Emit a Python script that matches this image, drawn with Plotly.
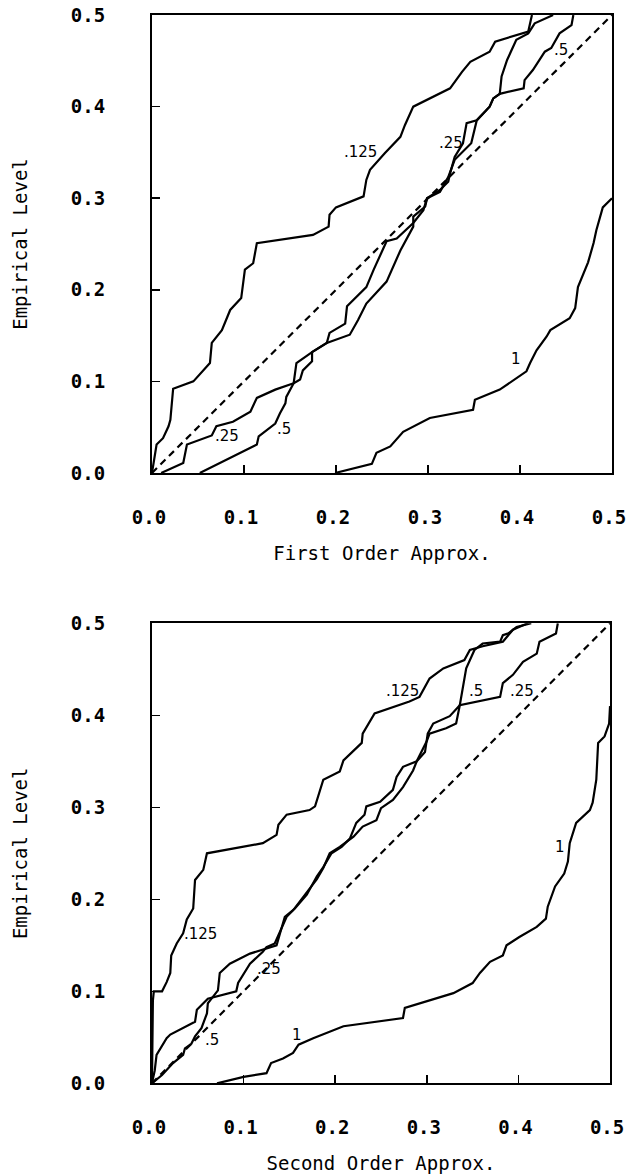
import plotly.graph_objects as go

# ---------------- data ----------------
tick_vals = [0.0, 0.1, 0.2, 0.3, 0.4, 0.5]
tick_text = ["0.0", "0.1", "0.2", "0.3", "0.4", "0.5"]

# First order approximation panel
f1_125_x = [0, 0.003, 0.005, 0.012, 0.018, 0.02, 0.023, 0.045, 0.063, 0.065, 0.076, 0.085, 0.097, 0.101, 0.11, 0.114,
            0.175, 0.192, 0.193, 0.2, 0.23, 0.233, 0.237, 0.253, 0.27, 0.275, 0.284, 0.324, 0.337, 0.346, 0.367,
            0.373, 0.404, 0.409, 0.413]
f1_125_y = [0, 0.02, 0.031, 0.038, 0.051, 0.058, 0.092, 0.10, 0.12, 0.142, 0.156, 0.178, 0.191, 0.222, 0.229, 0.251,
            0.26, 0.269, 0.282, 0.29, 0.302, 0.32, 0.331, 0.349, 0.367, 0.38, 0.40, 0.42, 0.438, 0.449, 0.46,
            0.471, 0.48, 0.482, 0.5]

f1_25_x = [0.01, 0.034, 0.038, 0.065, 0.07, 0.088, 0.107, 0.114, 0.134, 0.154, 0.157, 0.174, 0.19, 0.193, 0.21,
           0.212, 0.233, 0.241, 0.255, 0.266, 0.284, 0.295, 0.299, 0.313, 0.322, 0.324, 0.329, 0.338, 0.342, 0.353,
           0.367, 0.371, 0.378, 0.38, 0.386, 0.396, 0.409, 0.416, 0.436]
f1_25_y = [0, 0.011, 0.031, 0.041, 0.051, 0.056, 0.067, 0.082, 0.091, 0.098, 0.12, 0.132, 0.142, 0.153, 0.163,
           0.182, 0.203, 0.222, 0.253, 0.256, 0.273, 0.287, 0.30, 0.309, 0.318, 0.327, 0.345, 0.36, 0.382, 0.385,
           0.40, 0.409, 0.414, 0.433, 0.451, 0.473, 0.48, 0.491, 0.5]

f1_5_x = [0.052, 0.114, 0.116, 0.128, 0.134, 0.139, 0.145, 0.146, 0.154, 0.161, 0.164, 0.174, 0.174, 0.19, 0.215,
          0.224, 0.233, 0.255, 0.264, 0.27, 0.284, 0.284, 0.297, 0.299, 0.313, 0.322, 0.329, 0.347, 0.353, 0.367,
          0.371, 0.378, 0.404, 0.405, 0.414, 0.427, 0.434, 0.44, 0.443, 0.456, 0.458]
f1_5_y = [0, 0.031, 0.04, 0.049, 0.054, 0.065, 0.076, 0.083, 0.098, 0.102, 0.112, 0.122, 0.132, 0.142, 0.151,
          0.167, 0.185, 0.209, 0.229, 0.243, 0.269, 0.28, 0.291, 0.30, 0.307, 0.323, 0.342, 0.36, 0.385, 0.40,
          0.409, 0.414, 0.42, 0.429, 0.44, 0.46, 0.464, 0.474, 0.48, 0.489, 0.5]

f1_1_x = [0.199, 0.239, 0.244, 0.259, 0.273, 0.302, 0.349, 0.351, 0.378, 0.407, 0.411, 0.418, 0.429, 0.433, 0.454,
          0.46, 0.463, 0.471, 0.474, 0.48, 0.483, 0.49, 0.5]
f1_1_y = [0, 0.01, 0.022, 0.029, 0.045, 0.06, 0.069, 0.08, 0.091, 0.111, 0.12, 0.134, 0.149, 0.156, 0.169,
          0.18, 0.203, 0.222, 0.23, 0.251, 0.265, 0.29, 0.30]

# Second order approximation panel
s2_125_x = [0, 0.001, 0.002, 0.011, 0.016, 0.02, 0.021, 0.027, 0.034, 0.038, 0.045, 0.047, 0.056, 0.06, 0.121,
            0.136, 0.138, 0.147, 0.172, 0.178, 0.187, 0.205, 0.209, 0.229, 0.23, 0.243, 0.281, 0.292, 0.303, 0.318,
            0.341, 0.347, 0.361, 0.383, 0.394, 0.41]
s2_125_y = [0, 0.09, 0.1, 0.1, 0.11, 0.12, 0.139, 0.152, 0.163, 0.178, 0.19, 0.221, 0.232, 0.25, 0.261,
            0.27, 0.281, 0.292, 0.297, 0.301, 0.33, 0.339, 0.351, 0.37, 0.38, 0.402, 0.415, 0.42, 0.44, 0.451,
            0.46, 0.471, 0.475, 0.48, 0.493, 0.5]

s2_25_x = [0, 0.003, 0.005, 0.016, 0.02, 0.047, 0.049, 0.061, 0.092, 0.094, 0.107, 0.121, 0.125, 0.134, 0.138,
           0.147, 0.154, 0.169, 0.18, 0.187, 0.194, 0.205, 0.22, 0.23, 0.245, 0.25, 0.263, 0.274, 0.285, 0.289,
           0.3, 0.303, 0.321, 0.332, 0.336, 0.38, 0.383, 0.394, 0.405, 0.42, 0.423, 0.441, 0.443]
s2_25_y = [0, 0.014, 0.031, 0.049, 0.053, 0.067, 0.08, 0.092, 0.10, 0.109, 0.13, 0.143, 0.148, 0.152, 0.161,
           0.181, 0.188, 0.207, 0.222, 0.234, 0.25, 0.257, 0.268, 0.279, 0.286, 0.299, 0.308, 0.322, 0.34, 0.35,
           0.372, 0.38, 0.386, 0.391, 0.411, 0.42, 0.435, 0.444, 0.458, 0.467, 0.48, 0.489, 0.5]

s2_5_x = [0, 0.011, 0.023, 0.034, 0.036, 0.043, 0.047, 0.054, 0.06, 0.061, 0.065, 0.072, 0.074, 0.085, 0.107,
          0.125, 0.136, 0.145, 0.156, 0.169, 0.18, 0.187, 0.196, 0.207, 0.216, 0.223, 0.232, 0.234, 0.249, 0.263,
          0.267, 0.274, 0.289, 0.298, 0.301, 0.307, 0.325, 0.336, 0.343, 0.352, 0.361, 0.38, 0.383, 0.389, 0.398,
          0.414]
s2_5_y = [0, 0.009, 0.022, 0.031, 0.038, 0.043, 0.051, 0.06, 0.076, 0.087, 0.092, 0.101, 0.12, 0.13, 0.141,
          0.147, 0.15, 0.181, 0.19, 0.205, 0.225, 0.235, 0.25, 0.257, 0.266, 0.283, 0.292, 0.301, 0.306, 0.319,
          0.333, 0.344, 0.35, 0.36, 0.38, 0.391, 0.399, 0.411, 0.451, 0.471, 0.478, 0.48, 0.487, 0.489, 0.496,
          0.5]

s2_1_x = [0.071, 0.1, 0.125, 0.13, 0.143, 0.154, 0.16, 0.176, 0.209, 0.274, 0.276, 0.30, 0.329, 0.35, 0.358,
          0.369, 0.383, 0.387, 0.401, 0.42, 0.43, 0.432, 0.44, 0.45, 0.454, 0.456, 0.463, 0.478, 0.481, 0.485,
          0.487, 0.494, 0.499, 0.5]
s2_1_y = [0, 0.007, 0.011, 0.022, 0.027, 0.033, 0.042, 0.049, 0.062, 0.071, 0.082, 0.089, 0.098, 0.109, 0.12,
          0.132, 0.139, 0.15, 0.159, 0.17, 0.179, 0.192, 0.214, 0.228, 0.241, 0.261, 0.283, 0.297, 0.305, 0.33,
          0.37, 0.377, 0.391, 0.41]

diag = [0.0, 0.5]

# curve labels
f1_lab_text = [".125", ".25", ".5", ".25", ".5"]
f1_lab_x = [0.207, 0.310, 0.435, 0.066, 0.134]
f1_lab_y = [0.351, 0.360, 0.462, 0.040, 0.048]
f1_one_x, f1_one_y = [0.396], [0.125]

s2_lab_text = [".125", ".5", ".25", ".125", ".25", ".5"]
s2_lab_x = [0.253, 0.344, 0.389, 0.033, 0.112, 0.056]
s2_lab_y = [0.426, 0.426, 0.426, 0.162, 0.124, 0.047]
s2_one_x, s2_one_y = [0.445, 0.158], [0.257, 0.052]

# ---------------- figure ----------------
fig = go.Figure()
line = dict(color="black", width=2.2)
dashline = dict(color="black", width=2.2, dash="7px,5px")
for xs, ys in [(f1_125_x, f1_125_y), (f1_25_x, f1_25_y), (f1_5_x, f1_5_y), (f1_1_x, f1_1_y)]:
    fig.add_trace(go.Scatter(x=xs, y=ys, mode="lines", line=line, xaxis="x", yaxis="y", showlegend=False,
                             hoverinfo="skip"))
fig.add_trace(go.Scatter(x=diag, y=diag, mode="lines", line=dashline, xaxis="x", yaxis="y", showlegend=False,
                         hoverinfo="skip"))
for xs, ys in [(s2_125_x, s2_125_y), (s2_25_x, s2_25_y), (s2_5_x, s2_5_y), (s2_1_x, s2_1_y)]:
    fig.add_trace(go.Scatter(x=xs, y=ys, mode="lines", line=line, xaxis="x2", yaxis="y2", showlegend=False,
                             hoverinfo="skip"))
fig.add_trace(go.Scatter(x=diag, y=diag, mode="lines", line=dashline, xaxis="x2", yaxis="y2", showlegend=False,
                         hoverinfo="skip"))

lab_font = dict(family="DejaVu Sans", size=15, color="black")
anns = []
for t, x, y in zip(f1_lab_text, f1_lab_x, f1_lab_y):
    anns.append(dict(x=x, y=y, xref="x", yref="y", text=t, showarrow=False, xanchor="left",
                     yanchor="middle", font=lab_font))
for x, y in zip(f1_one_x, f1_one_y):
    anns.append(dict(x=x, y=y, xref="x", yref="y", text="1", showarrow=False, font=lab_font))
for t, x, y in zip(s2_lab_text, s2_lab_x, s2_lab_y):
    anns.append(dict(x=x, y=y, xref="x2", yref="y2", text=t, showarrow=False, xanchor="left",
                     yanchor="middle", font=lab_font))
for x, y in zip(s2_one_x, s2_one_y):
    anns.append(dict(x=x, y=y, xref="x2", yref="y2", text="1", showarrow=False, font=lab_font))

tick_font = dict(family="DejaVu Sans Mono", size=19, color="black", weight="bold")
title_font = dict(family="DejaVu Sans Mono", size=19, color="black")

def xax(domain, anchor, title):
    return dict(domain=domain, anchor=anchor, range=[0, 0.5], tickvals=tick_vals, ticktext=tick_text,
                ticks="inside", ticklen=8, tickwidth=1.5, tickcolor="black", showline=True, linewidth=2,
                linecolor="black", mirror=True, showgrid=False, zeroline=False, tickfont=tick_font,
                automargin=False, ticklabelstandoff=26, ticklabelshift=-3, ticklabeloverflow="allow",
                title=dict(text=title, font=title_font, standoff=20))

def yax(domain, anchor, title):
    return dict(domain=domain, anchor=anchor, range=[0, 0.5], tickvals=tick_vals, ticktext=tick_text,
                ticks="inside", ticklen=8, tickwidth=1.5, tickcolor="black", showline=True, linewidth=2,
                linecolor="black", mirror=True, showgrid=False, zeroline=False, tickfont=tick_font,
                automargin=False, ticklabelstandoff=41, ticklabeloverflow="allow",
                title=dict(text=title, font=title_font, standoff=38))

fig.update_layout(
    width=628, height=1176,
    margin=dict(l=0, r=0, t=0, b=0),
    paper_bgcolor="white", plot_bgcolor="white",
    showlegend=False,
    hovermode=False,
    xaxis=xax([0.2420, 0.9745], "y", "First Order Approx."),
    yaxis=yax([0.5978, 0.9872], "x", "Empirical Level"),
    xaxis2=xax([0.2420, 0.9714], "y2", "Second Order Approx."),
    yaxis2=yax([0.0788, 0.4700], "x2", "Empirical Level"),
    annotations=anns,
)

# the page's default 8px body margin would push the 628x1176 figure off the window
fig.write_html("out.html", config={"displayModeBar": False, "staticPlot": True},
               post_script="document.body.style.margin='0';document.body.style.overflow='hidden';")
